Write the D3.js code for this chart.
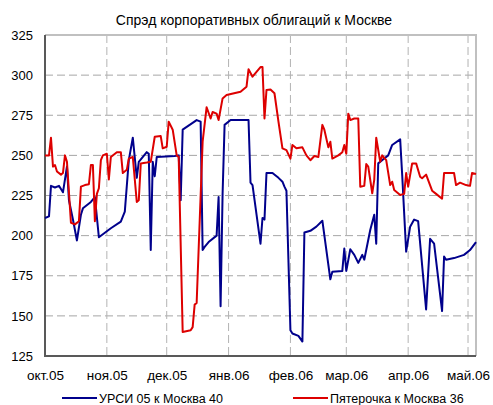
<!DOCTYPE html>
<html>
<head>
<meta charset="utf-8">
<script src="https://cdn.jsdelivr.net/npm/d3@7"></script>
<style>
  body { margin: 0; background: #fff; }
  text { font-family: "Liberation Sans", Arial, sans-serif; }
</style>
</head>
<body>
<div class="container"></div>
<script>
// days counted from 1 Oct 2005
const ursiDays = [0, 2, 3, 5, 7, 8, 9, 11, 12, 14, 16, 18, 19, 23, 25, 27, 33, 38, 40, 42, 44, 46, 47, 51, 52, 53, 54, 55, 56, 65, 67, 68, 69, 76, 78, 79, 80, 82, 86, 87, 88, 89, 90, 93, 102, 103, 104, 108, 109, 110, 111, 114, 117, 119, 120, 121, 123, 124, 127, 129, 130, 133, 136, 139, 143, 144, 149, 150, 151, 153, 155, 157, 159, 160, 163, 165, 166, 167, 170, 172, 174, 178, 179, 181, 183, 185, 187, 191, 193, 195, 199, 200, 201, 205, 210, 213, 216]
const ursiValues = [211, 212, 231, 230, 231, 229, 227, 243, 222, 210, 197, 213, 217, 221, 224, 199, 204.6, 208.7, 215, 247, 261, 236, 246, 252, 251, 191, 246, 237, 249, 249.6, 250, 222, 266, 272, 271, 191, 193, 196, 200, 224, 156, 226, 269, 272, 272, 233, 231.5, 195, 211, 210, 239, 239, 236, 233.6, 230.5, 228, 141, 139, 137.5, 134, 202, 203, 205.6, 209.3, 172.8, 177.5, 178, 192, 178, 191.5, 188, 183, 188, 185, 203.5, 213, 195, 245, 248, 250, 256.5, 260, 238, 190, 205.6, 210, 209, 154, 198, 195, 153, 187, 185, 186, 188, 191, 196]

const pyatDays = [0, 2, 3, 4, 5, 6, 8, 9, 10, 11, 13, 15, 17, 18, 20, 22, 23, 24, 25, 26, 27, 28, 29, 31, 32, 33, 36, 38, 39, 41, 42, 44, 46, 47, 48, 51, 53, 55, 58, 59, 61, 62, 64, 66, 67, 69, 73, 74, 75, 76, 79, 81, 83, 84, 86, 87, 89, 91, 98, 101, 102, 104, 106, 108, 109, 110, 111, 113, 115, 117, 119, 121, 123, 124, 126, 129, 131, 133, 135, 137, 139, 140, 142, 143, 144, 147, 149, 150, 151, 152, 153, 155, 157, 158, 160, 161, 162, 164, 165, 166, 168, 169, 171, 173, 174, 175, 178, 180, 181, 182, 184, 186, 188, 189, 191, 194, 196, 199, 200, 205, 206, 208, 211, 213, 214, 216]
const pyatValues = [250, 250, 261, 243, 244, 240, 238, 239, 250, 246, 208, 207, 209, 230.5, 231.5, 232, 244, 244, 209, 226, 229.5, 247, 250, 251, 235, 249, 252, 252, 239, 241, 248, 249, 221, 222, 245, 245.5, 246, 261.6, 262, 254.4, 255.4, 271, 266, 250, 249, 140, 141, 143, 157, 158, 258.5, 280, 273, 277, 276, 272, 285.5, 287.6, 289.7, 292.8, 303.6, 299, 302, 305, 305, 273, 290.7, 291, 288.7, 271, 254.4, 253.3, 248, 256.5, 254.4, 255, 250, 247, 249.6, 249, 269, 266, 255, 258.5, 248, 250, 252, 256.5, 251, 276, 272, 273, 273, 230.5, 231, 244.6, 243, 226.4, 234.7, 261, 246, 250, 247, 231.5, 233.6, 228.4, 225.3, 226, 239, 230.5, 245, 245, 236.7, 235.7, 238, 228, 226, 223, 239, 239, 231.5, 233, 231.5, 231, 239, 238.4]

const monthLabels = ['окт.05', 'ноя.05', 'дек.05', 'янв.06', 'фев.06', 'мар.06', 'апр.06', 'май.06']
const yTicks = [125, 150, 175, 200, 225, 250, 275, 300, 325]
const seriesNames = ['УРСИ 05 к Москва 40', 'Пятерочка к Москва 36']

const width = 493, height = 405
const margin = {top: 35, right: 17, bottom: 49, left: 45}
const start = new Date(2005, 9, 1)
const day = d => new Date(2005, 9, 1 + d)

const svg = d3.select('.container').append('svg')
  .attr('width', width)
  .attr('height', height)

const x = d3.scaleTime()
  .domain([start, day(216)])
  .range([margin.left, width - margin.right])

const y = d3.scaleLinear()
  .domain([125, 325])
  .range([height - margin.bottom, margin.top])

const monthStarts = monthLabels.map((m, i) => new Date(2005, 9 + i, 1))

// grid
svg.append('g')
  .selectAll('line')
  .data(yTicks.slice(1, -1))
  .enter()
  .append('line')
  .attr('x1', margin.left).attr('x2', width - margin.right)
  .attr('y1', d => y(d)).attr('y2', d => y(d))
  .attr('stroke', '#a6a6a6')
  .attr('stroke-dasharray', '8,4')

svg.append('g')
  .selectAll('line')
  .data(monthStarts.slice(1))
  .enter()
  .append('line')
  .attr('x1', d => x(d)).attr('x2', d => x(d))
  .attr('y1', margin.top).attr('y2', height - margin.bottom)
  .attr('stroke', '#b3b3b3')
  .attr('stroke-dasharray', '8,4')

// frame
svg.append('path')
  .attr('d', `M${margin.left},${margin.top}H${width - margin.right}V${height - margin.bottom}`)
  .attr('fill', 'none')
  .attr('stroke', '#c0c0c0')
  .attr('stroke-width', 2)

svg.append('path')
  .attr('d', `M${margin.left},${margin.top}V${height - margin.bottom}H${width - margin.right}`)
  .attr('fill', 'none')
  .attr('stroke', '#595959')
  .attr('stroke-width', 2)

// axes
const yAxis = svg.append('g')
  .attr('transform', `translate(${margin.left},0)`)
  .call(d3.axisLeft(y).tickValues(yTicks).tickSize(0).tickPadding(12))
yAxis.select('.domain').remove()
yAxis.selectAll('text').attr('font-size', 13).attr('fill', '#000').attr('font-family', 'Liberation Sans, Arial')

const xAxis = svg.append('g')
  .attr('transform', `translate(0,${height - margin.bottom})`)
  .call(d3.axisBottom(x).tickValues(monthStarts).tickFormat((d, i) => monthLabels[i]).tickSize(0).tickPadding(14))
xAxis.select('.domain').remove()
xAxis.selectAll('text').attr('font-size', 13.5).attr('fill', '#000').attr('font-family', 'Liberation Sans, Arial')

// lines
const line = d3.line()
  .x(d => x(day(d[0])))
  .y(d => y(d[1]))

svg.append('path')
  .datum(ursiDays.map((d, i) => [d, ursiValues[i]]))
  .attr('d', line)
  .attr('fill', 'none')
  .attr('stroke', '#00008c')
  .attr('stroke-width', 2)
  .attr('stroke-linejoin', 'round')

svg.append('path')
  .datum(pyatDays.map((d, i) => [d, pyatValues[i]]))
  .attr('d', line)
  .attr('fill', 'none')
  .attr('stroke', '#dd0000')
  .attr('stroke-width', 2)
  .attr('stroke-linejoin', 'round')

// title
svg.append('text')
  .attr('x', 254)
  .attr('y', 25)
  .attr('text-anchor', 'middle')
  .attr('font-size', 14)
  .text('Спрэд корпоративных облигаций к Москве')

// legend
const legend = svg.append('g')
  .selectAll('g')
  .data(seriesNames)
  .enter()
  .append('g')
  .attr('transform', (d, i) => `translate(${i === 0 ? 62 : 293},398)`)

legend.append('line')
  .attr('x1', 0).attr('x2', 35)
  .attr('stroke', (d, i) => i === 0 ? '#00008c' : '#dd0000')
  .attr('stroke-width', 2)

legend.append('text')
  .attr('x', 37)
  .attr('y', 4.5)
  .attr('font-size', 12.5)
  .text(d => d)
</script>
</body>
</html>
